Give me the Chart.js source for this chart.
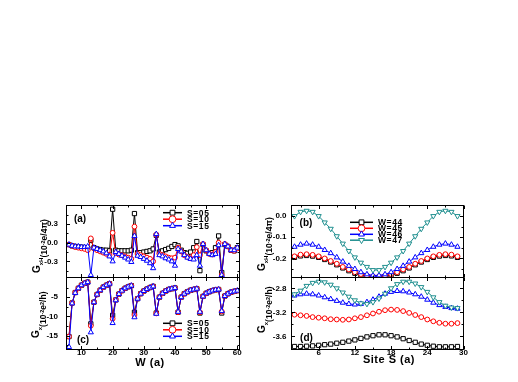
<!DOCTYPE html>
<html lang="en">
<head>
    <meta charset="UTF-8">
    <title>Conductance vs width and site</title>
    <script src="https://cdn.jsdelivr.net/npm/chart.js"></script>
    <style>
        html, body { margin: 0; padding: 0; background: #fff; }
        #wrap { position: relative; width: 518px; height: 382px; }
        #wrap canvas { position: absolute; left: 0; top: 0; }
    </style>
</head>
<body>
    <div id="wrap">
        <canvas id="chartA" width="518" height="382"></canvas>
        <canvas id="chartC" width="518" height="382"></canvas>
        <canvas id="chartB" width="518" height="382"></canvas>
        <canvas id="chartD" width="518" height="382"></canvas>
    </div>
    <script>
        // panels (a) and (c): ribbon width W
        const W_VALUES = [6, 7, 8, 9, 10, 11, 12, 13, 14, 15, 16, 17, 18, 19, 20, 21, 22, 23, 24, 25, 26, 27, 28, 29, 30,
            31, 32, 33, 34, 35, 36, 37, 38, 39, 40, 41, 42, 43, 44, 45, 46, 47, 48, 49, 50, 51, 52, 53, 54, 55, 56, 57, 58, 59, 60];

        const GXH_S05 = [-0.03, -0.05, -0.06, -0.07, -0.07, -0.08, -0.09,
            0.04, -0.08, -0.10, -0.11, -0.12, -0.12, -0.13,
            0.54, -0.12, -0.13, -0.13, -0.13, -0.13, -0.12,
            0.47, -0.16, -0.16, -0.15, -0.14, -0.13, -0.10,
            0.12, -0.15, -0.13, -0.11, -0.09, -0.06, -0.03,
            -0.05, -0.12, -0.16, -0.17, -0.15, -0.08, 0.02,
            -0.45, -0.03, -0.13, -0.17, -0.16, -0.08, 0.11,
            -0.48, -0.03, -0.06, -0.12, -0.13, -0.08];
        const GXH_S10 = [-0.03, -0.05, -0.07, -0.08, -0.09, -0.10, -0.12,
            0.07, -0.09, -0.12, -0.14, -0.16, -0.18, -0.20,
            0.16, -0.17, -0.19, -0.20, -0.22, -0.24, -0.26,
            0.26, -0.18, -0.20, -0.22, -0.24, -0.26, -0.30,
            0.13, -0.18, -0.20, -0.22, -0.24, -0.25, -0.24,
            -0.08, -0.14, -0.20, -0.23, -0.25, -0.20, -0.07,
            -0.20, -0.02, -0.12, -0.18, -0.19, -0.15, 0.00,
            -0.52, -0.02, -0.06, -0.12, -0.13, -0.09];
        const GXH_S15 = [-0.03, -0.05, -0.06, -0.06, -0.07, -0.07, -0.06,
            -0.52, -0.08, -0.10, -0.12, -0.14, -0.17, -0.22,
            -0.30, -0.15, -0.18, -0.21, -0.24, -0.27, -0.31,
            0.11, -0.21, -0.23, -0.26, -0.29, -0.33, -0.41,
            0.14, -0.20, -0.22, -0.25, -0.27, -0.30, -0.37,
            -0.10, -0.14, -0.20, -0.24, -0.26, -0.27, -0.20,
            -0.37, -0.02, -0.12, -0.18, -0.20, -0.18, -0.04,
            -0.52, -0.02, -0.06, -0.12, -0.12, -0.08];

        const GX_S05 = [-15.2, -6.5, -3.8, -2.7, -1.9, -1.4, -1.1,
            -11.9, -6.3, -4.3, -3.2, -2.4, -1.9, -1.5,
            -9.7, -5.7, -4.2, -3.3, -2.7, -2.3, -2.0,
            -8.9, -5.4, -4.1, -3.4, -2.9, -2.5, -2.2,
            -9.1, -5.0, -4.0, -3.4, -3.0, -2.8, -2.6,
            -8.9, -5.0, -4.1, -3.6, -3.2, -3.0, -2.8,
            -9.1, -4.8, -4.0, -3.6, -3.3, -3.1, -3.0,
            -9.1, -4.7, -4.1, -3.7, -3.5, -3.3];
        const GX_S10 = [-15.2, -6.5, -3.8, -2.7, -1.9, -1.4, -1.1,
            -12.4, -6.3, -4.3, -3.2, -2.4, -1.9, -1.5,
            -10.6, -5.7, -4.2, -3.3, -2.7, -2.3, -2.0,
            -9.6, -5.4, -4.1, -3.4, -2.9, -2.5, -2.2,
            -9.2, -5.0, -4.0, -3.4, -3.0, -2.8, -2.6,
            -8.9, -5.0, -4.1, -3.6, -3.2, -3.0, -2.8,
            -8.9, -4.8, -4.0, -3.6, -3.3, -3.1, -3.0,
            -8.7, -4.7, -4.1, -3.7, -3.5, -3.3];
        const GX_S15 = [-17.9, -6.6, -3.9, -2.7, -1.9, -1.4, -1.1,
            -14.1, -6.3, -4.3, -3.2, -2.4, -1.9, -1.5,
            -11.7, -5.8, -4.2, -3.3, -2.7, -2.3, -2.0,
            -10.2, -5.4, -4.1, -3.4, -2.9, -2.5, -2.2,
            -9.3, -5.0, -4.0, -3.4, -3.0, -2.8, -2.6,
            -8.8, -5.0, -4.1, -3.6, -3.2, -3.0, -2.8,
            -8.8, -4.8, -4.0, -3.6, -3.3, -3.1, -3.0,
            -8.6, -4.7, -4.1, -3.7, -3.5, -3.3];

        // panels (b) and (d): site S
        const SITES = [2, 3, 4, 5, 6, 7, 8, 9, 10, 11, 12, 13, 14, 15, 16, 17, 18, 19, 20, 21, 22, 23, 24, 25, 26, 27, 28, 29];

        const GXH_W44 = [-0.195, -0.188, -0.186, -0.189, -0.195, -0.205, -0.217, -0.230, -0.245, -0.258, -0.270, -0.279, -0.286, -0.290,
            -0.290, -0.286, -0.279, -0.270, -0.258, -0.245, -0.230, -0.217, -0.205, -0.195, -0.189, -0.186, -0.188, -0.195];
        const GXH_W45 = [-0.190, -0.182, -0.180, -0.183, -0.190, -0.200, -0.212, -0.225, -0.240, -0.252, -0.265, -0.274, -0.281, -0.285,
            -0.285, -0.281, -0.274, -0.265, -0.252, -0.240, -0.225, -0.212, -0.200, -0.190, -0.183, -0.180, -0.182, -0.190];
        const GXH_W46 = [-0.145, -0.135, -0.130, -0.135, -0.145, -0.160, -0.175, -0.195, -0.215, -0.235, -0.250, -0.265, -0.275, -0.280,
            -0.280, -0.275, -0.265, -0.250, -0.235, -0.215, -0.195, -0.175, -0.160, -0.145, -0.135, -0.130, -0.135, -0.145];
        const GXH_W47 = [0.000, 0.020, 0.025, 0.020, 0.000, -0.030, -0.060, -0.095, -0.130, -0.165, -0.195, -0.220, -0.240, -0.255,
            -0.255, -0.240, -0.220, -0.195, -0.165, -0.130, -0.095, -0.060, -0.030, 0.000, 0.020, 0.025, 0.020, 0.000];

        const GX_W44 = [-3.77, -3.77, -3.765, -3.76, -3.75, -3.74, -3.73, -3.715, -3.70, -3.68, -3.66, -3.635, -3.61, -3.59,
            -3.575, -3.575, -3.59, -3.61, -3.64, -3.67, -3.70, -3.73, -3.75, -3.765, -3.775, -3.775, -3.775, -3.77];
        const GX_W45 = [-3.24, -3.25, -3.26, -3.28, -3.29, -3.30, -3.315, -3.32, -3.325, -3.32, -3.30, -3.28, -3.25, -3.22,
            -3.19, -3.165, -3.155, -3.16, -3.18, -3.21, -3.245, -3.28, -3.32, -3.35, -3.375, -3.39, -3.39, -3.38];
        const GX_W46 = [-2.92, -2.90, -2.89, -2.90, -2.92, -2.95, -2.98, -3.01, -3.04, -3.06, -3.07, -3.06, -3.03, -2.99,
            -2.94, -2.89, -2.86, -2.845, -2.85, -2.87, -2.90, -2.94, -2.99, -3.04, -3.08, -3.11, -3.13, -3.14];
        const GX_W47 = [-2.90, -2.84, -2.76, -2.71, -2.69, -2.70, -2.74, -2.80, -2.87, -2.94, -3.00, -3.05, -3.06, -3.03,
            -2.97, -2.89, -2.80, -2.73, -2.69, -2.69, -2.72, -2.78, -2.86, -2.95, -3.03, -3.09, -3.12, -3.13];

        const W_TICKS = [10, 20, 30, 40, 50, 60];
        const W_MINOR = [15, 25, 35, 45, 55];
        const S_TICKS = [6, 12, 18, 24, 30];
        const S_MINOR = [3, 9, 15, 21, 27];
        const GXH_W_TICKS = [-0.3, 0.0, 0.3];
        const GX_W_TICKS = [-15, -10, -5];
        const GXH_S_TICKS = [-0.2, -0.1, 0.0];
        const GX_S_TICKS = [-3.6, -3.2, -2.8];

        const BLACK = '#000000', RED = '#ff0000', BLUE = '#0000ff', TEAL = '#1f8f8f';
        const FONT = '"Liberation Sans", Arial, sans-serif';

        function drawMarker(ctx, style, x, y, r, color) {
            ctx.beginPath();
            if (style === 'rect') {
                const s = r * Math.SQRT1_2;
                ctx.rect(x - s, y - s, 2 * s, 2 * s);
            } else if (style === 'circle') {
                ctx.arc(x, y, r, 0, Math.PI * 2);
            } else {
                const flip = style === 'down' ? -1 : 1;
                ctx.moveTo(x, y - r * flip);
                ctx.lineTo(x + r * 0.866, y + r * 0.5 * flip);
                ctx.lineTo(x - r * 0.866, y + r * 0.5 * flip);
                ctx.closePath();
            }
            ctx.fillStyle = '#fff';
            ctx.fill();
            ctx.strokeStyle = color;
            ctx.lineWidth = 1;
            ctx.stroke();
        }

        function drawYTitle(ctx, t) {
            ctx.save();
            ctx.translate(t.x, t.y);
            ctx.rotate(-Math.PI / 2);
            ctx.fillStyle = '#000';
            ctx.textAlign = 'left';
            ctx.textBaseline = 'alphabetic';
            let cx = 0;
            t.pieces.forEach(p => {
                ctx.font = 'bold ' + p.size + 'px ' + FONT;
                ctx.fillText(p.t, cx, p.dy);
                cx += ctx.measureText(p.t).width;
            });
            ctx.restore();
        }

        // frame with inward ticks, axis titles, legends and panel letters
        const decor = {
            id: 'decor',
            afterDatasetsDraw(chart, args, o) {
                const ctx = chart.ctx;
                const a = chart.chartArea;
                const xs = chart.scales.x, ys = chart.scales.y;
                ctx.save();
                ctx.strokeStyle = '#000';
                ctx.lineWidth = 1;
                ctx.strokeRect(a.left, a.top, a.right - a.left, a.bottom - a.top);
                ctx.beginPath();
                const tickX = (v, len) => {
                    const p = Math.round(xs.getPixelForValue(v)) + 0.5;
                    ctx.moveTo(p, a.bottom); ctx.lineTo(p, a.bottom - len);
                    ctx.moveTo(p, a.top); ctx.lineTo(p, a.top + len);
                };
                const tickY = (v, len) => {
                    const p = Math.round(ys.getPixelForValue(v)) + 0.5;
                    ctx.moveTo(a.left, p); ctx.lineTo(a.left + len, p);
                    ctx.moveTo(a.right, p); ctx.lineTo(a.right - len, p);
                };
                o.xMajor.forEach(v => tickX(v, 3.5));
                o.xMinor.forEach(v => tickX(v, 2));
                o.yMajor.forEach(v => tickY(v, 3.5));
                o.yMinor.forEach(v => tickY(v, 2));
                ctx.stroke();

                drawYTitle(ctx, o.yTitle);

                ctx.fillStyle = '#000';
                ctx.textAlign = 'center';
                ctx.textBaseline = 'middle';
                if (o.xTitle) {
                    ctx.font = 'bold 11px ' + FONT;
                    ctx.letterSpacing = '0.5px';
                    ctx.fillText(o.xTitle.text, o.xTitle.x, o.xTitle.y);
                    ctx.letterSpacing = '0px';
                }
                ctx.font = 'bold 10px ' + FONT;
                ctx.fillText(o.label.text, o.label.x, o.label.y);

                if (o.legend) {
                    const L = o.legend;
                    L.items.forEach((it, i) => {
                        const y = L.rows[i];
                        ctx.beginPath();
                        ctx.strokeStyle = it.color;
                        ctx.lineWidth = 1.5;
                        ctx.moveTo(L.x0, y);
                        ctx.lineTo(L.x1, y);
                        ctx.stroke();
                        drawMarker(ctx, it.style, (L.x0 + L.x1) / 2, y, 3.4, it.color);
                        ctx.fillStyle = '#000';
                        ctx.textAlign = 'left';
                        ctx.font = 'bold 8.5px ' + FONT;
                        ctx.letterSpacing = '0.6px';
                        ctx.fillText(it.text, L.tx, y + 0.5);
                        ctx.letterSpacing = '0px';
                    });
                }
                ctx.restore();
            }
        };

        function series(xv, yv, color, style, order) {
            return {
                data: xv.map((x, i) => ({ x: x, y: yv[i] })),
                borderColor: color,
                borderWidth: 1,
                pointStyle: style === 'down' ? 'triangle' : style,
                pointRotation: style === 'down' ? 180 : 0,
                pointRadius: style === 'circle' ? 2.4 : 3,
                pointBorderWidth: 1,
                pointBorderColor: color,
                pointBackgroundColor: '#fff',
                tension: 0,
                order: order
            };
        }

        function tickFont() {
            return { family: FONT, size: 8, weight: 'bold' };
        }

        function makePanel(id, p) {
            const xScale = { type: 'linear', min: p.xMin, max: p.xMax };
            if (p.xTicks) {
                Object.assign(xScale, {
                    grid: { display: false, drawTicks: false },
                    border: { display: false },
                    ticks: { font: tickFont(), color: '#000', padding: -2, maxRotation: 0, autoSkip: false,
                        callback: v => String(v) },
                    afterBuildTicks: s => { s.ticks = p.xTicks.map(v => ({ value: v })); },
                    afterFit: s => { s.height = 32.5; }
                });
            } else {
                xScale.display = false;
            }
            return new Chart(document.getElementById(id), {
                type: 'line',
                data: { datasets: p.datasets },
                options: {
                    responsive: false,
                    animation: false,
                    devicePixelRatio: 1,
                    events: [],
                    layout: { padding: p.pad },
                    plugins: {
                        legend: { display: false },
                        tooltip: { enabled: false },
                        decor: p.decor
                    },
                    scales: {
                        x: xScale,
                        y: {
                            type: 'linear',
                            min: p.yMin,
                            max: p.yMax,
                            grid: { display: false, drawTicks: false },
                            border: { display: false },
                            ticks: { font: tickFont(), color: '#000', padding: p.yPad, callback: p.yFmt },
                            afterBuildTicks: s => { s.ticks = p.yTicks.map(v => ({ value: v })); },
                            afterFit: s => { s.width = 30; }
                        }
                    }
                },
                plugins: [decor]
            });
        }

        const fmt1 = v => Number(v).toFixed(1);
        const fmt0 = v => String(v);

        const hallTitle = (x, y) => ({ x: x, y: y, pieces: [
            { t: 'G', size: 10, dy: 0 },
            { t: 'xH', size: 6, dy: 3 },
            { t: '(10', size: 8.5, dy: 7.5 },
            { t: '-2', size: 5.5, dy: 5 },
            { t: 'e/4\u03c0)', size: 8.5, dy: 7.5 }
        ] });
        const longTitle = (x, y) => ({ x: x, y: y, pieces: [
            { t: 'G', size: 10, dy: 0 },
            { t: 'x', size: 6, dy: 3 },
            { t: '(10', size: 8.5, dy: 7.5 },
            { t: '-2', size: 5.5, dy: 5 },
            { t: 'e', size: 8.5, dy: 7.5 },
            { t: '2', size: 5.5, dy: 5 },
            { t: '/h)', size: 8.5, dy: 7.5 }
        ] });

        const legendS = [
            { text: 'S=05', color: BLACK, style: 'rect' },
            { text: 'S=10', color: RED, style: 'circle' },
            { text: 'S=15', color: BLUE, style: 'triangle' }
        ];

        makePanel('chartA', {
            pad: { left: 36.5, right: 278.5, top: 205.5, bottom: 104.5 },
            xMin: 5.2, xMax: 60.7, yMin: -0.56, yMax: 0.6,
            yTicks: GXH_W_TICKS, yFmt: fmt1, yPad: 8.5,
            datasets: [
                series(W_VALUES, GXH_S05, BLACK, 'rect', 3),
                series(W_VALUES, GXH_S10, RED, 'circle', 2),
                series(W_VALUES, GXH_S15, BLUE, 'triangle', 1)
            ],
            decor: {
                xMajor: W_TICKS, xMinor: W_MINOR, yMajor: GXH_W_TICKS, yMinor: [-0.45, -0.15, 0.15, 0.45],
                yTitle: hallTitle(39.5, 273),
                label: { text: '(a)', x: 80, y: 219.5 },
                legend: { x0: 163, x1: 182, tx: 187, rows: [212.7, 219.2, 225.7], items: legendS }
            }
        });

        makePanel('chartC', {
            pad: { left: 36.5, right: 278.5, top: 277.5, bottom: 0 },
            xMin: 5.2, xMax: 60.7, yMin: -18.55, yMax: 0.1, xTicks: W_TICKS,
            yTicks: GX_W_TICKS, yFmt: fmt0, yPad: 8.5,
            datasets: [
                series(W_VALUES, GX_S05, BLACK, 'rect', 3),
                series(W_VALUES, GX_S10, RED, 'circle', 2),
                series(W_VALUES, GX_S15, BLUE, 'triangle', 1)
            ],
            decor: {
                xMajor: W_TICKS, xMinor: W_MINOR, yMajor: GX_W_TICKS, yMinor: [-17.5, -12.5, -7.5, -2.5],
                yTitle: longTitle(38.5, 338),
                xTitle: { text: 'W (a)', x: 150, y: 363 },
                label: { text: '(c)', x: 83, y: 340.5 },
                legend: { x0: 163, x1: 182, tx: 187, rows: [323.3, 329.8, 336.3], items: legendS }
            }
        });

        makePanel('chartB', {
            pad: { left: 261.5, right: 54.5, top: 205.5, bottom: 104.5 },
            xMin: 1.5, xMax: 30, yMin: -0.29, yMax: 0.05,
            yTicks: GXH_S_TICKS, yFmt: fmt1, yPad: 5,
            datasets: [
                series(SITES, GXH_W44, BLACK, 'rect', 4),
                series(SITES, GXH_W45, RED, 'circle', 3),
                series(SITES, GXH_W46, BLUE, 'triangle', 2),
                series(SITES, GXH_W47, TEAL, 'down', 1)
            ],
            decor: {
                xMajor: S_TICKS, xMinor: S_MINOR, yMajor: GXH_S_TICKS, yMinor: [-0.25, -0.15, -0.05],
                yTitle: hallTitle(264.5, 271),
                label: { text: '(b)', x: 306, y: 223.5 },
                legend: { x0: 350, x1: 373, tx: 378, rows: [222.3, 228.3, 234.3, 240.2], items: [
                    { text: 'W=44', color: BLACK, style: 'rect' },
                    { text: 'W=45', color: RED, style: 'circle' },
                    { text: 'W=46', color: BLUE, style: 'triangle' },
                    { text: 'W=47', color: TEAL, style: 'down' }
                ] }
            }
        });

        makePanel('chartD', {
            pad: { left: 261.5, right: 54.5, top: 277.5, bottom: 0 },
            xMin: 1.5, xMax: 30, yMin: -3.82, yMax: -2.62, xTicks: S_TICKS,
            yTicks: GX_S_TICKS, yFmt: fmt1, yPad: 5,
            datasets: [
                series(SITES, GX_W44, BLACK, 'rect', 4),
                series(SITES, GX_W45, RED, 'circle', 3),
                series(SITES, GX_W46, BLUE, 'triangle', 2),
                series(SITES, GX_W47, TEAL, 'down', 1)
            ],
            decor: {
                xMajor: S_TICKS, xMinor: S_MINOR, yMajor: GX_S_TICKS, yMinor: [-3.4, -3.0],
                yTitle: longTitle(264.5, 333),
                xTitle: { text: 'Site S (a)', x: 389, y: 360 },
                label: { text: '(d)', x: 306.5, y: 338.5 }
            }
        });
    </script>
</body>
</html>
